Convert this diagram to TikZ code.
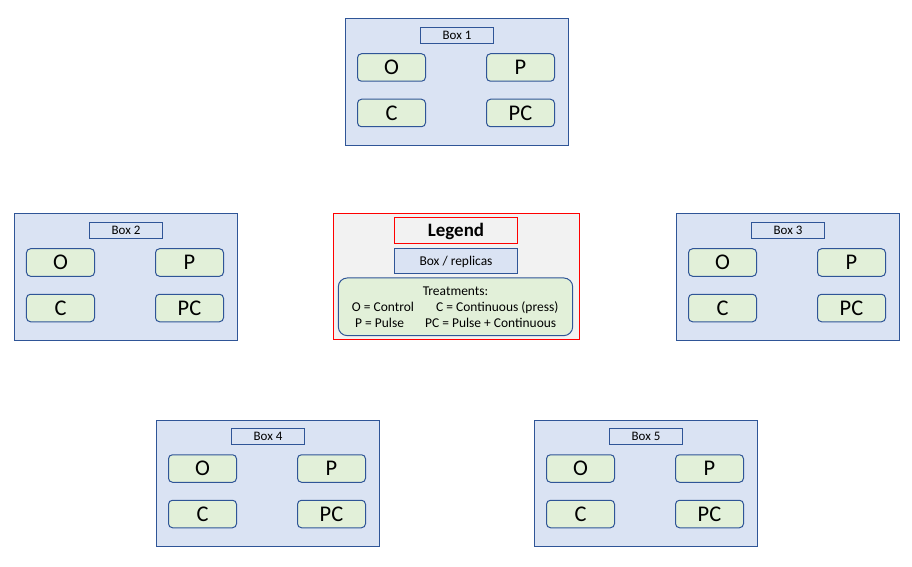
\documentclass[tikz,border=0pt]{standalone}
\usepackage{fontspec}
\setmainfont{Carlito}
\definecolor{boxfill}{HTML}{DAE3F3}
\definecolor{boxline}{HTML}{2F5597}
\definecolor{trtfill}{HTML}{E2F0D9}
\definecolor{legfill}{HTML}{F2F2F2}
\definecolor{legline}{HTML}{FF0000}
\tikzset{
  outerbox/.style={draw=boxline, fill=boxfill, line width=1bp, minimum width=223bp, minimum height=126bp, inner sep=0pt, anchor=north west},
  labelbox/.style={draw=boxline, fill=boxfill, line width=1bp, minimum width=73bp, minimum height=16bp, inner sep=0pt, font=\fontsize{13}{15}\selectfont},
  trtbox/.style={draw=boxline, fill=trtfill, rounded corners=4bp, line width=1bp, minimum width=68bp, minimum height=27.5bp, inner sep=0pt, font=\fontsize{22.5}{25}\selectfont},
  legendbox/.style={draw=legline, fill=legfill, line width=1.2bp, minimum width=246bp, minimum height=126bp, inner sep=0pt},
  legtitle/.style={draw=legline, fill=legfill, line width=1.2bp, minimum width=123bp, minimum height=26bp, inner sep=0pt, text height=12.2pt, text depth=0pt, font=\bfseries\fontsize{19}{21}\selectfont},
  legbox/.style={draw=boxline, fill=boxfill, line width=1bp, minimum width=123bp, minimum height=25bp, inner sep=0pt, text height=8.7pt, text depth=0pt, font=\fontsize{13.5}{15}\selectfont},
  legtrt/.style={draw=boxline, fill=trtfill, rounded corners=9bp, line width=1bp, minimum width=234.4bp, minimum height=57.7bp, inner sep=0pt},
  legtext/.style={inner sep=0pt, text height=8.7pt, text depth=0pt, font=\fontsize{13.5}{15}\selectfont},
}
\newcommand{\replicabox}[4]{%
  \node[outerbox] (#1) at (#2,#3) {};
  \node[labelbox] (#1-lab) at (#2+112.5,#3+17) {#4};
  \node[trtbox] (#1-O) at (#2+47,#3+49) {O};
  \node[trtbox] (#1-P) at (#2+176,#3+49) {P};
  \node[trtbox] (#1-C) at (#2+47,#3+94.5) {C};
  \node[trtbox] (#1-PC) at (#2+176,#3+94.5) {PC};
}
\begin{document}
\begin{tikzpicture}[x=1bp,y=-1bp]
\useasboundingbox[fill=white] (0,0) rectangle (912,567);
\replicabox{b1}{344.5}{18.5}{Box 1}
\replicabox{b2}{13.5}{213.5}{Box 2}
\replicabox{b3}{675.5}{213.5}{Box 3}
\replicabox{b4}{155.5}{419.5}{Box 4}
\replicabox{b5}{533.5}{419.5}{Box 5}
\node[legendbox] (leg) at (456.5,276.5) {};
\node[legtitle] (leg-title) at (456,230.5) {Legend};
\node[legbox] (leg-box) at (456,261) {Box / replicas};
\node[legtrt] (leg-trt) at (455.5,306.8) {};
\node[legtext] (leg-t0) at (455.5,291.5) {Treatments:};
\node[legtext, anchor=west] (leg-t1) at (351.7,307.5) {O = Control};
\node[legtext, anchor=west] (leg-t2) at (436,307.5) {C = Continuous (press)};
\node[legtext, anchor=west] (leg-t3) at (355,323.5) {P = Pulse};
\node[legtext, anchor=west] (leg-t4) at (425,323.5) {PC = Pulse + Continuous};
\end{tikzpicture}
\end{document}
